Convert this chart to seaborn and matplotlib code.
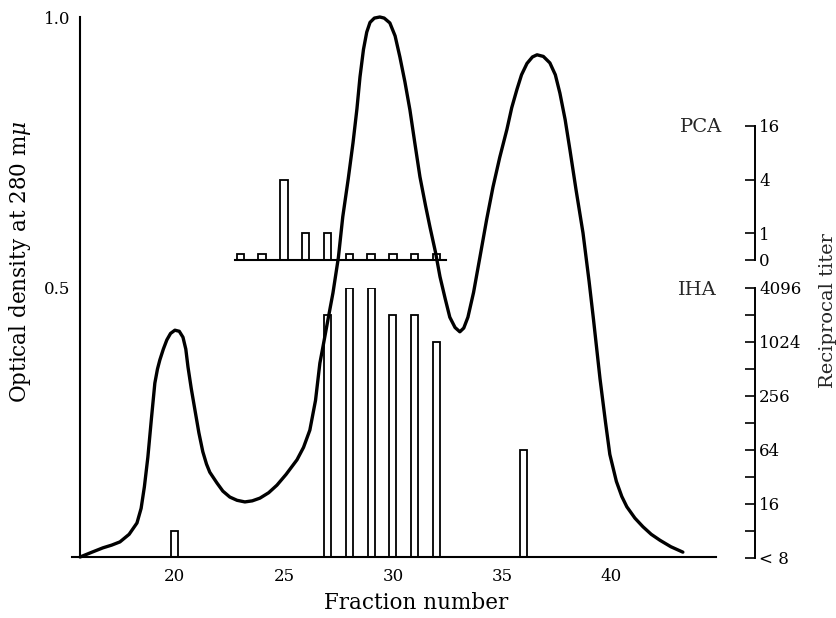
import numpy as np
import pandas as pd
import matplotlib
matplotlib.use("Agg")
import matplotlib.pyplot as plt
import seaborn as sns

# ---------------- data ----------------
# Optical density curve (fraction number, OD at 280 mμ)
od_fraction = [15.65, 16.2, 16.7, 17.1, 17.48, 17.9, 18.26, 18.45, 18.6, 18.76,
               18.92, 19.08, 19.2, 19.31, 19.47, 19.63, 19.8, 20.0, 20.2, 20.37,
               20.5, 20.6, 20.75, 20.92, 21.1, 21.28, 21.45, 21.6, 21.93, 22.2, 22.52,
               22.85, 23.21, 23.55, 23.9, 24.3, 24.68, 25.1, 25.6, 25.9, 26.19,
               26.45, 26.65, 26.79, 27.0, 27.25, 27.5, 27.7, 27.95, 28.17, 28.35,
               28.49, 28.65, 28.8, 28.95, 29.15, 29.4, 29.6, 29.86, 30.1, 30.32,
               30.55, 30.78, 31.0, 31.24, 31.5, 31.7, 31.95, 32.16, 32.4, 32.61,
               32.85, 33.07, 33.25, 33.44, 33.7, 33.99, 34.3, 34.59, 34.9, 35.23,
               35.45, 35.69, 35.9, 36.15, 36.4, 36.61, 36.9, 37.2, 37.45, 37.66,
               37.9, 38.12, 38.4, 38.72, 39.0, 39.2, 39.5, 39.75, 39.95, 40.25,
               40.5, 40.73, 41.1, 41.47, 41.85, 42.25, 42.75, 43.3]
od_value = [0.0, 0.009, 0.017, 0.022, 0.028, 0.042, 0.063, 0.09, 0.13, 0.185,
            0.255, 0.322, 0.348, 0.365, 0.385, 0.402, 0.414, 0.420, 0.418, 0.407,
            0.385, 0.352, 0.312, 0.272, 0.230, 0.195, 0.172, 0.157, 0.137, 0.122, 0.111,
            0.105, 0.102, 0.104, 0.109, 0.119, 0.133, 0.153, 0.180, 0.203, 0.235,
            0.290, 0.359, 0.389, 0.435, 0.489, 0.555, 0.630, 0.700, 0.767, 0.83,
            0.889, 0.940, 0.972, 0.990, 0.998, 1.0, 0.998, 0.989, 0.965, 0.926,
            0.880, 0.828, 0.768, 0.704, 0.650, 0.611, 0.565, 0.519, 0.478, 0.444,
            0.425, 0.417, 0.424, 0.444, 0.490, 0.555, 0.625, 0.685, 0.740, 0.792,
            0.832, 0.866, 0.893, 0.914, 0.926, 0.930, 0.927, 0.915, 0.893, 0.859,
            0.810, 0.754, 0.680, 0.600, 0.510, 0.440, 0.330, 0.250, 0.190, 0.140,
            0.112, 0.093, 0.072, 0.056, 0.042, 0.031, 0.019, 0.009]

# IHA reciprocal titers (fractions with titer >= 8)
iha_fraction = [20, 27, 28, 29, 30, 31, 32, 36]
iha_titer = [8, 2048, 4096, 4096, 2048, 2048, 1024, 64]

# PCA reciprocal titers
pca_fraction = [23, 24, 25, 26, 27, 28, 29, 30, 31, 32]
pca_titer = [0, 0, 4, 1, 1, 0, 0, 0, 0, 0]

x_ticks = [20, 25, 30, 35, 40]
od_ticks = [0.25, 0.5, 0.75, 1.0]
od_ticklabels = ["", "0.5", "", "1.0"]
iha_ticks = [4, 8, 16, 32, 64, 128, 256, 512, 1024, 2048, 4096]
iha_ticklabels = ["< 8", "", "16", "", "64", "", "256", "", "1024", "", "4096"]
pca_ticks = [0, 1, 4, 16]
pca_ticklabels = ["0", "1", "4", "16"]

ZERO_MARK = 0.24   # drawn height of a zero-titer PCA box (display only)

# ---------------- style ----------------
sns.set_theme(style="white")
plt.rcParams["font.family"] = ["DejaVu Serif"]
plt.rcParams["mathtext.fontset"] = "dejavuserif"

W, H = 837, 618
fig = plt.figure(figsize=(W / 100, H / 100), dpi=100)

def fx(px):
    return px / W

def fy(py):
    return 1 - py / H

XLIM = (15.28, 44.82)
ax_left_px, ax_right_px = 72, 716
ax_w_px = ax_right_px - ax_left_px

# main axes (optical density)
ax = fig.add_axes([fx(ax_left_px), fy(557), fx(ax_w_px), 540 / H])
df_od = pd.DataFrame({"fraction": od_fraction, "od": od_value})
sns.lineplot(data=df_od, x="fraction", y="od", ax=ax, color="black",
             linewidth=2.4, sort=False, estimator=None)
for ln in ax.lines:
    ln.set_clip_on(False)
    ln.set_solid_joinstyle("round")
    ln.set_solid_capstyle("round")
ax.set_xlim(*XLIM)
ax.set_ylim(0, 1.0)
ax.set_facecolor("none")
for s in ["top", "right"]:
    ax.spines[s].set_visible(False)
ax.spines["left"].set_position(("data", 15.65))
ax.spines["left"].set_bounds(0, 1.0)
for s in ["left", "bottom"]:
    ax.spines[s].set_color("black")
    ax.spines[s].set_linewidth(1.5)
ax.set_xticks(x_ticks)
ax.set_xticklabels([str(t) for t in x_ticks])
ax.set_yticks(od_ticks)
ax.set_yticklabels(od_ticklabels)
ax.tick_params(axis="x", direction="in", length=6, width=1.2, labelsize=12,
               pad=8, colors="black")
ax.tick_params(axis="y", direction="inout", length=10, width=1.2, labelsize=12,
               pad=2, colors="black")
ax.set_xlabel("Fraction number", fontsize=15.5, color="black")
ax.set_ylabel("Optical density at 280 m$\\mu$", fontsize=15.5, color="black")
ax.xaxis.set_label_coords((416 - ax_left_px) / ax_w_px, (557 - 592) / 540)
ax.yaxis.set_label_coords((33 - ax_left_px) / ax_w_px, (557 - 262) / 540)
ax.grid(False)

spine_pos = (755 - ax_left_px) / ax_w_px

# IHA axes (log2 titer)
ax_iha = fig.add_axes([fx(ax_left_px), fy(558), fx(ax_w_px), 270 / H])
ax_iha.set_yscale("log", base=2)
df_iha = pd.DataFrame({"fraction": iha_fraction, "titer": iha_titer})
sns.barplot(data=df_iha, x="fraction", y="titer", ax=ax_iha, native_scale=True,
            width=0.32, fill=False, color="black", linewidth=1.3, errorbar=None)
ax_iha.set_xlim(*XLIM)
ax_iha.set_ylim(4, 4096)
ax_iha.set_facecolor("none")
for s in ["top", "left", "bottom"]:
    ax_iha.spines[s].set_visible(False)
ax_iha.spines["right"].set_position(("axes", spine_pos))
ax_iha.spines["right"].set_bounds(4, 4096)
ax_iha.spines["right"].set_color("black")
ax_iha.spines["right"].set_linewidth(1.4)
ax_iha.set_xticks([])
ax_iha.yaxis.tick_right()
ax_iha.set_yticks(iha_ticks)
ax_iha.set_yticklabels(iha_ticklabels)
ax_iha.yaxis.set_minor_locator(matplotlib.ticker.NullLocator())
ax_iha.tick_params(axis="y", direction="in", length=7, width=1.2, labelsize=12,
                   pad=3, colors="black", right=True, left=False)
ax_iha.set_xlabel("")
ax_iha.set_ylabel("")
ax_iha.grid(False)

# PCA axes (log2 titer with 0 placed one step below 1)
def pca_fwd(v):
    v = np.asarray(v, dtype=float)
    return np.where(v >= 1, np.log2(np.maximum(v, 1)), v - 1)

def pca_inv(y):
    y = np.asarray(y, dtype=float)
    return np.where(y >= 0, np.power(2.0, np.maximum(y, 0)), y + 1)

ax_pca = fig.add_axes([fx(ax_left_px), fy(260), fx(ax_w_px), 134 / H])
ax_pca.set_yscale("function", functions=(pca_fwd, pca_inv))
pca_drawn = [t if t > 0 else ZERO_MARK for t in pca_titer]
df_pca = pd.DataFrame({"fraction": pca_fraction, "titer": pca_drawn})
sns.barplot(data=df_pca, x="fraction", y="titer", ax=ax_pca, native_scale=True,
            width=0.34, fill=False, color="black", linewidth=1.3, errorbar=None)
ax_pca.set_xlim(*XLIM)
ax_pca.set_ylim(0, 16)
ax_pca.set_facecolor("none")
for s in ["top", "left"]:
    ax_pca.spines[s].set_visible(False)
ax_pca.spines["bottom"].set_bounds(22.75, 32.45)
ax_pca.spines["bottom"].set_color("black")
ax_pca.spines["bottom"].set_linewidth(1.5)
ax_pca.spines["right"].set_position(("axes", spine_pos))
ax_pca.spines["right"].set_bounds(0, 16)
ax_pca.spines["right"].set_color("black")
ax_pca.spines["right"].set_linewidth(1.4)
ax_pca.set_xticks([])
ax_pca.yaxis.tick_right()
ax_pca.set_yticks(pca_ticks)
ax_pca.set_yticklabels(pca_ticklabels)
ax_pca.yaxis.set_minor_locator(matplotlib.ticker.NullLocator())
ax_pca.tick_params(axis="y", direction="in", length=7, width=1.2, labelsize=12,
                   pad=3, colors="black", right=True, left=False)
ax_pca.set_xlabel("")
ax_pca.set_ylabel("")
ax_pca.grid(False)

# panel labels and right-hand axis title
fig.text(fx(701), fy(127), "PCA", fontsize=14, ha="center", va="center")
fig.text(fx(697), fy(290), "IHA", fontsize=14, ha="center", va="center")
fig.text(fx(828), fy(311), "Reciprocal titer", fontsize=14, rotation=90,
         ha="center", va="center")

fig.savefig("out.png", dpi=100)
